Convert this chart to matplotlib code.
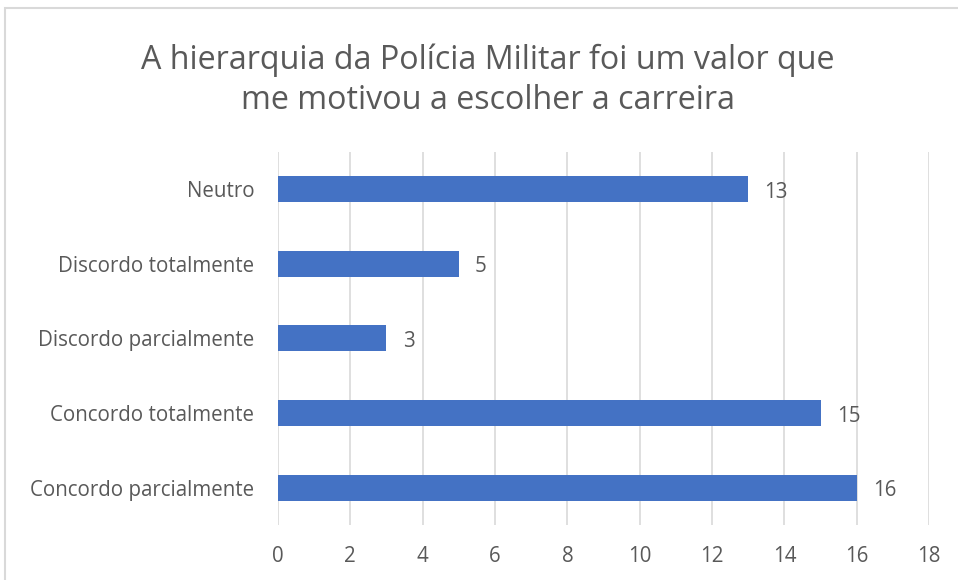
import matplotlib
matplotlib.use("Agg")
import matplotlib.pyplot as plt
from matplotlib.patches import Rectangle

plt.rcParams['font.family'] = ['Open Sans', 'DejaVu Sans']

categorias = ["Concordo parcialmente", "Concordo totalmente", "Discordo parcialmente",
              "Discordo totalmente", "Neutro"]
valores = [16, 15, 3, 5, 13]
ticks_x = list(range(0, 20, 2))

cinza = "#595959"

fig = plt.figure(figsize=(9.58, 5.8), dpi=100)
ax = fig.add_axes([0.290, 0.095, 0.680, 0.643])

ax.barh(range(len(categorias)), valores, height=0.35, color="#4472C4", zorder=3)
for i, v in enumerate(valores):
    ax.text(v + 0.45, i - 0.04, str(v), va="center", ha="left", fontsize=14.8, color=cinza)

ax.set_xlim(0, 18)
ax.set_ylim(-0.5, len(categorias) - 0.5)
ax.set_xticks(ticks_x)
ax.set_yticks(range(len(categorias)))
ax.set_yticklabels(categorias)
ax.tick_params(axis="both", length=0, labelsize=14.8, colors=cinza)
ax.tick_params(axis="x", pad=15)
ax.tick_params(axis="y", pad=17)
ax.grid(axis="x", color="#D9D9D9", linewidth=1.2, zorder=0)
for s in ax.spines.values():
    s.set_visible(False)

fig.text(0.509, 0.862, "A hierarquia da Polícia Militar foi um valor que\nme motivou a escolher a carreira",
         ha="center", va="center", fontsize=23.2, color=cinza, linespacing=1.3)

# moldura do gráfico
fig.patches.append(Rectangle((5 / 958, -0.1), 1.2, 1.1 - 8 / 580, transform=fig.transFigure,
                             fill=False, edgecolor="#D9D9D9", linewidth=1.5))

fig.savefig("out.png", dpi=100, facecolor="white")
